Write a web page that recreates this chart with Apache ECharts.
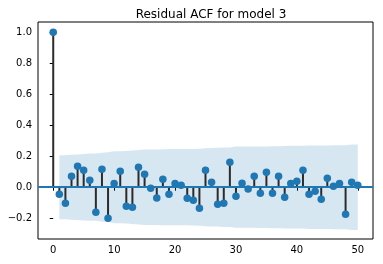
<!DOCTYPE html>
<html>
<head>
<meta charset="utf-8">
<script src="https://cdn.jsdelivr.net/npm/echarts@6/dist/echarts.min.js"></script>
<style>html,body{margin:0;padding:0;background:#fff}#c{width:383px;height:264px}</style>
</head>
<body>
<div id="c"></div>
<script>
const lags = [0,1,2,3,4,5,6,7,8,9,10,11,12,13,14,15,16,17,18,19,20,21,22,23,24,25,26,27,28,29,30,31,32,33,34,35,36,37,38,39,40,41,42,43,44,45,46,47,48,49,50];
const acf = [1.0,-0.045,-0.103,0.071,0.135,0.110,0.045,-0.161,0.116,-0.200,0.024,0.103,-0.123,-0.129,0.129,0.084,-0.006,-0.069,0.052,-0.045,0.024,0.013,-0.071,-0.084,-0.135,0.110,0.032,-0.110,-0.103,0.161,-0.058,0.026,-0.011,0.071,-0.039,0.097,-0.039,0.071,-0.065,0.024,0.039,0.110,-0.045,-0.026,-0.077,0.058,0.006,0.024,-0.174,0.032,0.013];
const bandLags = lags.slice(1);
const bandHalf = [0.207,0.207,0.210,0.211,0.214,0.217,0.217,0.222,0.225,0.232,
                  0.232,0.234,0.237,0.240,0.243,0.244,0.244,0.245,0.246,0.246,
                  0.246,0.246,0.247,0.248,0.251,0.253,0.254,0.256,0.257,0.262,
                  0.262,0.262,0.262,0.263,0.263,0.265,0.265,0.266,0.267,0.267,
                  0.267,0.269,0.269,0.269,0.270,0.271,0.271,0.271,0.276,0.276];
const xTicks = [0,10,20,30,40,50];
const yTicks = [-0.2,0,0.2,0.4,0.6,0.8,1.0];
const yTickLabels = ['\u22120.2','0.0','0.2','0.4','0.6','0.8','1.0'];
const titleText = 'Residual ACF for model 3';

const FONT = 'DejaVu Sans';
const C0 = '#1f77b4';
const pts = lags.map((l,i)=>[l,acf[i]]);
const upper = bandLags.map((l,i)=>[l,bandHalf[i]]);
const lower = bandLags.map((l,i)=>[l,-bandHalf[i]]);

const chart = echarts.init(document.getElementById('c'), null, {renderer:'canvas'});
chart.setOption({
  animation:false,
  backgroundColor:'#fff',
  title:{text:titleText,left:206,top:4,textAlign:'center',
    textStyle:{fontFamily:FONT,fontSize:12,fontWeight:'normal',color:'#000'}},
  grid:{left:38,right:10,top:22,bottom:25,show:true,borderColor:'#000',borderWidth:1,
    backgroundColor:'transparent',outerBoundsMode:'none'},
  xAxis:{type:'value',min:-2.5,max:52.5,splitLine:{show:false},axisLine:{show:false},
    axisTick:{show:true,length:3.5,inside:false,customValues:xTicks,lineStyle:{color:'#000',width:1}},
    axisLabel:{customValues:xTicks,margin:6,fontFamily:FONT,fontSize:10,color:'#000'}},
  yAxis:{type:'value',min:-0.334,max:1.066,splitLine:{show:false},axisLine:{show:false},
    axisTick:{show:true,length:3.5,inside:false,customValues:yTicks,lineStyle:{color:'#000',width:1}},
    axisLabel:{customValues:yTicks,margin:6,fontFamily:FONT,fontSize:10,color:'#000',hideOverlap:false,
      formatter:function(v){
        for(let i=0;i<yTicks.length;i++){ if(Math.abs(v-yTicks[i])<1e-6) return yTickLabels[i]; }
        return String(v);
      }}},
  series:[
    {type:'line',data:upper,showSymbol:false,symbol:'none',lineStyle:{width:0},
      areaStyle:{color:'rgba(31,119,180,0.25)',origin:'auto'},z:1,silent:true},
    {type:'line',data:lower,showSymbol:false,symbol:'none',lineStyle:{width:0},
      areaStyle:{color:'rgba(31,119,180,0.25)',origin:'auto'},z:1,silent:true},
    {type:'line',data:[],z:2,silent:true,
      markLine:{silent:true,symbol:['none','none'],label:{show:false},
        lineStyle:{color:C0,width:1.8,type:'solid'},data:[{yAxis:0}]}},
    {type:'custom',data:pts,encode:{x:0,y:1},z:3,silent:true,
      renderItem:function(params,api){
        const x=api.value(0), y=api.value(1);
        const p0=api.coord([x,0]), p1=api.coord([x,y]);
        return {type:'line',shape:{x1:p0[0],y1:p0[1],x2:p1[0],y2:p1[1]},
          style:{stroke:'#2b2b2b',lineWidth:2}};
      }},
    {type:'scatter',data:pts,symbol:'circle',symbolSize:7.5,itemStyle:{color:C0,opacity:1},z:4,silent:true}
  ]
});
</script>
</body>
</html>
